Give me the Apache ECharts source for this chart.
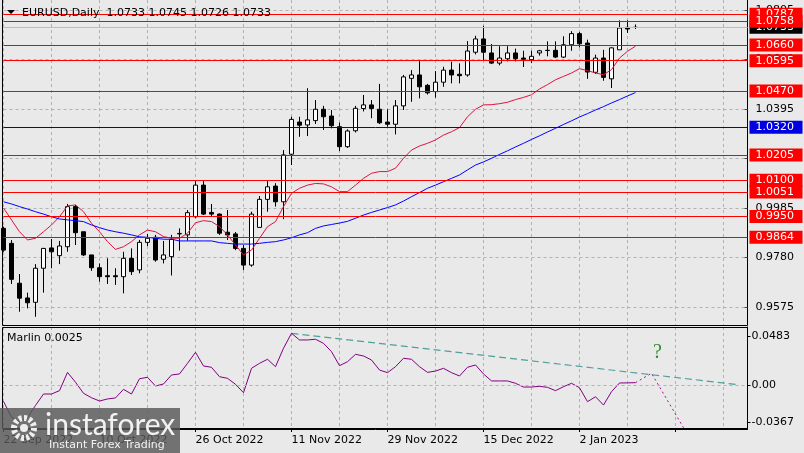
<!DOCTYPE html>
<html>
<head>
<meta charset="utf-8">
<script src="https://cdn.jsdelivr.net/npm/echarts/dist/echarts.min.js"></script>
<style>
html,body{margin:0;padding:0;background:#e9e9e9;}
#c{width:804px;height:453px;}
</style>
</head>
<body>
<div id="c"></div>
<script>
const dates = [
 '22 Sep 2022','23 Sep 2022','26 Sep 2022','27 Sep 2022','28 Sep 2022','29 Sep 2022','30 Sep 2022',
 '3 Oct 2022','4 Oct 2022','5 Oct 2022','6 Oct 2022','7 Oct 2022',
 '10 Oct 2022','11 Oct 2022','12 Oct 2022','13 Oct 2022','14 Oct 2022',
 '17 Oct 2022','18 Oct 2022','19 Oct 2022','20 Oct 2022','21 Oct 2022',
 '24 Oct 2022','25 Oct 2022','26 Oct 2022','27 Oct 2022','28 Oct 2022','31 Oct 2022',
 '1 Nov 2022','2 Nov 2022','3 Nov 2022','4 Nov 2022',
 '7 Nov 2022','8 Nov 2022','9 Nov 2022','10 Nov 2022','11 Nov 2022',
 '14 Nov 2022','15 Nov 2022','16 Nov 2022','17 Nov 2022','18 Nov 2022',
 '21 Nov 2022','22 Nov 2022','23 Nov 2022','24 Nov 2022','25 Nov 2022',
 '28 Nov 2022','29 Nov 2022','30 Nov 2022','1 Dec 2022','2 Dec 2022',
 '5 Dec 2022','6 Dec 2022','7 Dec 2022','8 Dec 2022','9 Dec 2022',
 '12 Dec 2022','13 Dec 2022','14 Dec 2022','15 Dec 2022','16 Dec 2022',
 '19 Dec 2022','20 Dec 2022','21 Dec 2022','22 Dec 2022','23 Dec 2022',
 '26 Dec 2022','27 Dec 2022','28 Dec 2022','29 Dec 2022','30 Dec 2022',
 '2 Jan 2023','3 Jan 2023','4 Jan 2023','5 Jan 2023','6 Jan 2023',
 '9 Jan 2023','10 Jan 2023','11 Jan 2023'
];
const futureSlots = 14;

const opens = [0.9901,0.9839,0.9674,0.9613,0.9595,0.9736,0.9820,0.9788,0.9825,0.9991,
 0.9887,0.9791,0.9738,0.9705,0.9705,0.9701,0.9777,0.9729,0.9843,0.9864,
 0.9773,0.9784,0.9878,0.9874,0.9949,1.0080,0.9967,0.9960,0.9885,0.9878,
 0.9818,0.9749,0.9905,1.0021,1.0076,1.0011,1.0208,1.0341,1.0329,1.0347,
 1.0394,1.0366,1.0322,1.0239,1.0305,1.0397,1.0412,1.0394,1.0341,1.0332,
 1.0408,1.0522,1.0536,1.0493,1.0467,1.0506,1.0556,1.0539,1.0536,1.0630,
 1.0685,1.0627,1.0585,1.0603,1.0627,1.0606,1.0599,1.0627,1.0638,1.0638,
 1.0610,1.0661,1.0707,1.0668,1.0547,1.0606,1.0520,1.0640,1.0733,1.0733];
const highs = [0.9908,0.9853,0.9712,0.9635,0.9753,0.9820,0.9857,0.9849,1.0002,0.9998,
 0.9887,0.9791,0.9756,0.9777,0.9736,0.9804,0.9818,0.9853,0.9878,0.9874,
 0.9849,0.9874,0.9901,0.9977,1.0098,1.0098,1.0002,0.9963,0.9977,0.9886,
 0.9832,0.9970,1.0035,1.0097,1.0088,1.0225,1.0363,1.0363,1.0481,1.0432,
 1.0408,1.0391,1.0339,1.0311,1.0408,1.0453,1.0432,1.0499,1.0394,1.0432,
 1.0536,1.0556,1.0595,1.0499,1.0552,1.0570,1.0591,1.0584,1.0676,1.0698,
 1.0739,1.0664,1.0655,1.0655,1.0645,1.0636,1.0636,1.0640,1.0675,1.0675,
 1.0696,1.0717,1.0714,1.0682,1.0620,1.0640,1.0650,1.0762,1.0762,1.0745];
const lows = [0.9804,0.9671,0.9556,0.9570,0.9535,0.9635,0.9736,0.9753,0.9804,0.9832,
 0.9787,0.9725,0.9680,0.9671,0.9667,0.9632,0.9708,0.9715,0.9828,0.9763,
 0.9756,0.9706,0.9809,0.9850,0.9943,0.9956,0.9949,0.9874,0.9853,0.9811,
 0.9729,0.9742,0.9905,0.9970,0.9991,0.9939,1.0163,1.0280,1.0283,1.0333,
 1.0308,1.0315,1.0221,1.0234,1.0298,1.0385,1.0357,1.0333,1.0322,1.0290,
 1.0391,1.0425,1.0439,1.0455,1.0442,1.0487,1.0501,1.0501,1.0529,1.0621,
 1.0594,1.0581,1.0576,1.0592,1.0592,1.0569,1.0585,1.0616,1.0613,1.0606,
 1.0606,1.0636,1.0650,1.0520,1.0540,1.0512,1.0482,1.0640,1.0710,1.0726];
const closes = [0.9811,0.9690,0.9612,0.9593,0.9736,0.9818,0.9804,0.9828,0.9991,0.9883,
 0.9791,0.9738,0.9701,0.9701,0.9701,0.9777,0.9722,0.9843,0.9860,0.9770,
 0.9791,0.9855,0.9880,0.9966,1.0080,0.9960,0.9960,0.9881,0.9874,0.9818,
 0.9749,0.9960,1.0021,1.0073,1.0011,1.0205,1.0352,1.0328,1.0350,1.0394,
 1.0363,1.0326,1.0239,1.0304,1.0398,1.0412,1.0397,1.0338,1.0332,1.0408,
 1.0528,1.0536,1.0487,1.0462,1.0506,1.0556,1.0536,1.0533,1.0635,1.0685,
 1.0630,1.0585,1.0606,1.0627,1.0603,1.0601,1.0613,1.0636,1.0637,1.0610,
 1.0661,1.0707,1.0665,1.0548,1.0606,1.0526,1.0648,1.0730,1.0726,1.0733];

const maFast = [0.9985,0.9936,0.9887,0.9853,0.9860,0.9887,0.9915,0.9949,0.9994,0.9998,
 0.9970,0.9922,0.9887,0.9846,0.9814,0.9825,0.9846,0.9874,0.9894,0.9887,
 0.9867,0.9860,0.9860,0.9881,0.9924,0.9933,0.9929,0.9908,0.9874,0.9832,
 0.9791,0.9811,0.9860,0.9908,0.9929,0.9991,1.0046,1.0067,1.0080,1.0087,
 1.0085,1.0073,1.0053,1.0053,1.0080,1.0108,1.0129,1.0136,1.0136,1.0150,
 1.0191,1.0225,1.0242,1.0253,1.0267,1.0287,1.0301,1.0318,1.0363,1.0394,
 1.0412,1.0413,1.0417,1.0423,1.0434,1.0443,1.0454,1.0478,1.0496,1.0516,
 1.0530,1.0544,1.0562,1.0554,1.0544,1.0537,1.0558,1.0606,1.0634,1.0655];
const maSlow = [1.0011,1.0002,0.9991,0.9981,0.9970,0.9960,0.9949,0.9940,0.9936,0.9933,
 0.9929,0.9915,0.9904,0.9894,0.9887,0.9881,0.9874,0.9866,0.9864,0.9860,
 0.9856,0.9856,0.9849,0.9849,0.9849,0.9849,0.9849,0.9842,0.9839,0.9836,
 0.9836,0.9836,0.9839,0.9843,0.9846,0.9853,0.9862,0.9874,0.9883,0.9901,
 0.9911,0.9917,0.9923,0.9930,0.9943,0.9956,0.9967,0.9977,0.9987,0.9998,
 1.0014,1.0032,1.0049,1.0067,1.0080,1.0094,1.0108,1.0122,1.0143,1.0163,
 1.0176,1.0191,1.0207,1.0222,1.0238,1.0253,1.0269,1.0284,1.0300,1.0315,
 1.0331,1.0346,1.0362,1.0376,1.0391,1.0405,1.0420,1.0434,1.0449,1.0463];

const marlin = [-0.0160,-0.0315,-0.0360,-0.0320,-0.0200,-0.0087,-0.0087,-0.0054,0.0127,0.0029,
 -0.0080,-0.0124,-0.0156,-0.0136,-0.0126,-0.0041,-0.0087,0.0064,0.0078,-0.0008,
 0.0012,0.0101,0.0111,0.0216,0.0325,0.0190,0.0177,0.0084,0.0068,0.0009,
 -0.0074,0.0167,0.0216,0.0256,0.0183,0.0365,0.0513,0.0447,0.0447,0.0454,
 0.0414,0.0331,0.0193,0.0232,0.0305,0.0289,0.0249,0.0150,0.0124,0.0183,
 0.0266,0.0256,0.0183,0.0127,0.0140,0.0167,0.0124,0.0091,0.0177,0.0200,
 0.0111,0.0042,0.0042,0.0042,0.0019,-0.0018,-0.0018,-0.0011,-0.0021,-0.0054,
 -0.0015,0.0019,-0.0025,-0.0163,-0.0114,-0.0196,-0.0064,0.0022,0.0023,0.0025];
const marlinForecast = [[79,0.0025],[81,0.0118],[85,-0.0420]];
const marlinTrend = [[36,0.0513],[92,0.0004]];

const redLevels = [1.0787,1.0660,1.0595,1.0470,1.0205,1.0100,1.0051,0.9950,0.9864,1.0758];
const blueLevel = 1.0320;
const bidPrice = 1.0733;
const priceTicks = [0.9575,0.9780,0.9985,1.0190,1.0395,1.0600,1.0805];
const marlinTicks = [-0.0367,0,0.0483];
const marlinTickLabels = ['-0.0367','0.00','0.0483'];
const symbolTitle = 'EURUSD,Daily  1.0733 1.0745 1.0726 1.0733';
const marlinTitle = 'Marlin 0.0025';

const FONT = 'DejaVu Sans';
const cats = dates.concat(new Array(futureSlots).fill(''));
const candleData = dates.map((d,i)=>[opens[i],closes[i],lows[i],highs[i]]);
const gridDash = {color:'#b2b2b2', type:[3,3], width:1};

const levelLines = [
  {yAxis: bidPrice, lineStyle:{color:'#bdbdbd',width:1,type:'solid'}, label:{backgroundColor:'#000000'}},
  {yAxis: blueLevel, lineStyle:{color:'#0000c8',width:1,type:'solid'}, label:{backgroundColor:'#0000e0'}}
].concat(redLevels.map(v=>({yAxis:v, lineStyle:{color:'#ff0000',width:1,type:'solid'}, label:{backgroundColor:'#ff0000'}})));

const chart = echarts.init(document.getElementById('c'));
chart.setOption({
  animation:false,
  backgroundColor:'#e9e9e9',
  grid:[
    {left:3.5, right:56.5, top:0, height:325},
    {left:3.5, right:56.5, top:327, height:102}
  ],
  xAxis:[
    {type:'category', gridIndex:0, data:cats, boundaryGap:false,
     axisLine:{show:false}, axisTick:{show:false}, axisLabel:{show:false},
     splitLine:{show:true, interval:5, lineStyle:gridDash}},
    {type:'category', gridIndex:1, data:cats, boundaryGap:false,
     axisLine:{show:true, onZero:false, lineStyle:{color:'#000',width:1}},
     axisTick:{show:true, interval:11, length:3, lineStyle:{color:'#000'}},
     axisLabel:{show:true, interval:11, align:'left', margin:6, color:'#000', fontFamily:FONT, fontSize:11},
     splitLine:{show:true, interval:5, lineStyle:gridDash}}
  ],
  yAxis:[
    {type:'value', gridIndex:0, position:'right', min:0.95010, max:1.08462, scale:true,
     axisLine:{show:true, lineStyle:{color:'#000',width:1}},
     axisTick:{show:true, inside:true, length:3, customValues:priceTicks, lineStyle:{color:'#444'}},
     axisLabel:{show:true, customValues:priceTicks, formatter:v=>v.toFixed(4), margin:8, color:'#000', fontFamily:FONT, fontSize:11},
     splitLine:{show:true, lineStyle:gridDash}},
    {type:'value', gridIndex:1, position:'right', min:-0.04328, max:0.05751,
     axisLine:{show:true, lineStyle:{color:'#000',width:1}},
     axisTick:{show:true, length:3, customValues:marlinTicks, lineStyle:{color:'#000'}},
     axisLabel:{show:true, customValues:marlinTicks, formatter:v=>marlinTickLabels[marlinTicks.indexOf(+v.toFixed(4))] ?? String(v), margin:4, color:'#000', fontFamily:FONT, fontSize:11},
     splitLine:{show:false}}
  ],
  series:[
    {type:'candlestick', xAxisIndex:0, yAxisIndex:0, data:candleData, barWidth:5,
     itemStyle:{color:'#ffffff', color0:'#000000', borderColor:'#000000', borderColor0:'#000000', borderWidth:1},
     markLine:{silent:true, symbol:['none','none'], animation:false, precision:4,
       label:{show:true, position:'end', distance:2, formatter:p=>Number(p.value).toFixed(4),
              color:'#ffffff', fontFamily:FONT, fontSize:11, lineHeight:12, padding:[1,4,0,6], width:43},
       data:levelLines}},
    {type:'line', xAxisIndex:0, yAxisIndex:0, data:maFast, symbol:'none', lineStyle:{color:'#dc143c',width:1}},
    {type:'line', xAxisIndex:0, yAxisIndex:0, data:maSlow, symbol:'none', lineStyle:{color:'#0000ff',width:1}},
    {type:'line', xAxisIndex:1, yAxisIndex:1, data:marlinTrend, symbol:'none', lineStyle:{color:'#4f9f9a',width:1.2,type:[7,4]}},
    {type:'line', xAxisIndex:1, yAxisIndex:1, data:marlin, symbol:'none', lineStyle:{color:'#800080',width:1},
     markLine:{silent:true, symbol:['none','none'], precision:4, label:{show:false}, data:[{yAxis:0}], lineStyle:gridDash}},
    {type:'line', xAxisIndex:1, yAxisIndex:1, data:marlinForecast, symbol:'none', lineStyle:{color:'#a0109a',width:1,type:[2,3]}}
  ],
  graphic:[
    {type:'polygon', shape:{points:[[7,10],[15,10],[11,14]]}, style:{fill:'#000'}, z:10},
    {type:'text', x:22, y:13, style:{text:symbolTitle, fill:'#000', font:'11px "DejaVu Sans"', textVerticalAlign:'middle'}, z:10},
    {type:'text', x:7, y:338, style:{text:marlinTitle, fill:'#000', font:'11px "DejaVu Sans"', textVerticalAlign:'middle'}, z:10},
    {type:'text', x:653, y:353, style:{text:'?', fill:'#2f8a2f', font:'20px "Liberation Serif"', textVerticalAlign:'middle'}, z:10},
    {type:'line', shape:{x1:2.5,y1:0,x2:2.5,y2:325.5}, style:{stroke:'#000',lineWidth:1}, z:10},
    {type:'line', shape:{x1:2.5,y1:325.5,x2:747.5,y2:325.5}, style:{stroke:'#000',lineWidth:1}, z:10},
    {type:'rect', shape:{x:2.5,y:327.5,width:745,height:101}, style:{fill:'none',stroke:'#000',lineWidth:1}, z:10},
    {type:'group', z:100, children:[
      {type:'rect', shape:{x:0,y:408,width:180,height:45}, style:{fill:'rgba(88,88,88,0.82)'}, z:100},
      {type:'circle', shape:{cx:24,cy:428,r:10}, style:{fill:'none',stroke:'#eeeeee',lineWidth:6,lineDash:[3,2.2]}, z:101},
      {type:'circle', shape:{cx:24,cy:428,r:4}, style:{fill:'#eeeeee'}, z:101},
      {type:'text', x:45, y:425, style:{text:'instaforex', fill:'#f2f2f2', font:'30px Lato', textVerticalAlign:'middle'}, z:101},
      {type:'text', x:49, y:445, style:{text:'Instant Forex Trading', fill:'#f2f2f2', font:'11px "DejaVu Sans"', textVerticalAlign:'middle'}, z:101}
    ]}
  ]
});
</script>
</body>
</html>
